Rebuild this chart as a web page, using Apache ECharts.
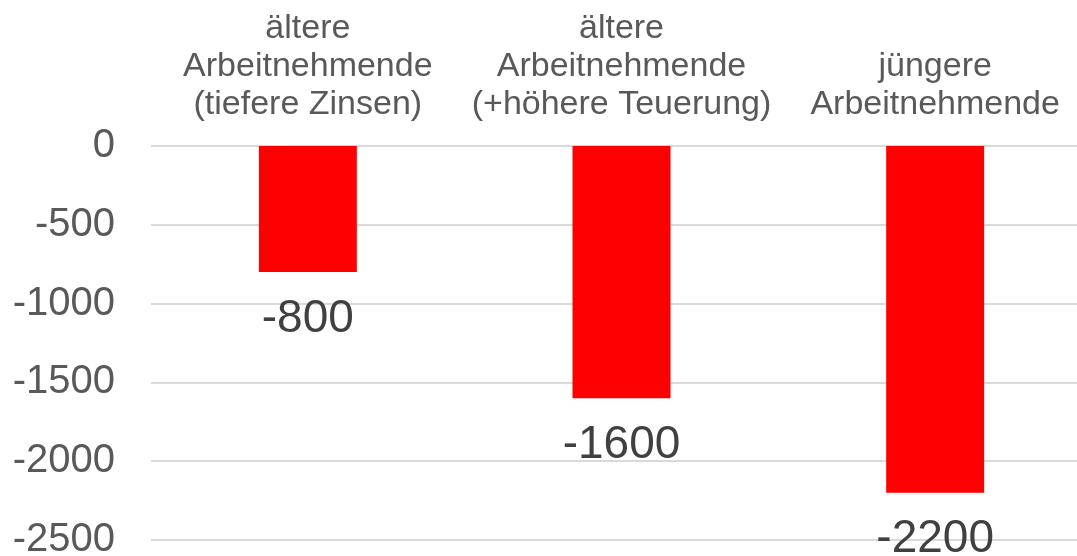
<!DOCTYPE html>
<html>
<head>
<meta charset="utf-8">
<script src="https://cdn.jsdelivr.net/npm/echarts@6/dist/echarts.min.js"></script>
<style>
	html, body { margin: 0; padding: 0; background: #fff; }
	#chart { width: 1077px; height: 556px; }
</style>
</head>
<body>
<div id="chart"></div>
<script>
	// Kategorien und Werte
	var categories = [
		'ältere\nArbeitnehmende\n(tiefere Zinsen)',
		'ältere\nArbeitnehmende\n(+höhere Teuerung)',
		'jüngere\nArbeitnehmende'
	];
	var values = [-800, -1600, -2200];
	var yTicks = [0, -500, -1000, -1500, -2000, -2500];

	var myChart = echarts.init(document.getElementById('chart'));
	var option = {
		animation: false,
		textStyle: {
			fontFamily: 'Liberation Sans, Arial, sans-serif'
		},
		//Plotbereich geht rechts über den Rand hinaus
		grid: {
			left: 151,
			width: 941,
			top: 146,
			bottom: 16,
			containLabel: false,
			outerBoundsMode: 'none'
		},
		xAxis: {
			type: 'category',
			position: 'top',
			data: categories,
			axisLine: { show: false },
			axisTick: { show: false },
			axisLabel: {
				color: '#595959',
				fontSize: 34,
				lineHeight: 38,
				margin: 22,
				interval: 0
			}
		},
		yAxis: {
			type: 'value',
			min: yTicks[yTicks.length - 1],
			max: yTicks[0],
			interval: 500,
			axisLine: { show: false },
			axisTick: { show: false },
			splitLine: {
				lineStyle: { color: '#d9d9d9', width: 2 }
			},
			axisLabel: {
				color: '#595959',
				fontSize: 40,
				margin: 36,
				formatter: function (v) { return String(v) }
			}
		},
		series: [{
			type: 'bar',
			data: values,
			barWidth: 98,
			itemStyle: { color: '#ff0000' },
			label: {
				show: true,
				position: 'outside',
				distance: 24,
				color: '#404040',
				fontSize: 46
			}
		}]
	};
	myChart.setOption(option);
</script>
</body>
</html>
